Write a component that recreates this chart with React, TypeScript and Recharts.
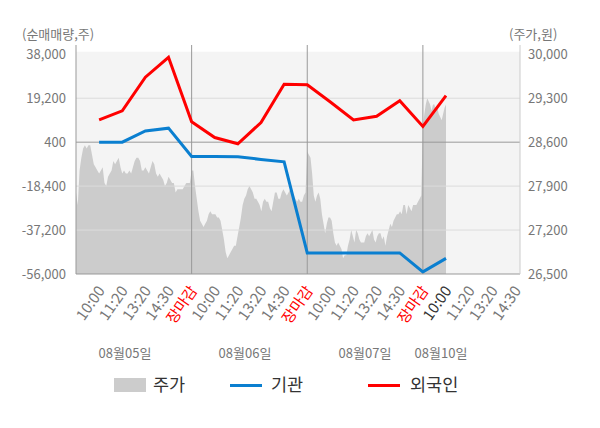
import React from "react";
import {
    ComposedChart,
    Area,
    Line,
    XAxis,
    YAxis,
    ReferenceLine,
    ReferenceArea
} from "recharts";

// x-axis tick labels (positions 1..19)
const tickLabels = [
    "10:00", "11:20", "13:20", "14:30", "장마감",
    "10:00", "11:20", "13:20", "14:30", "장마감",
    "10:00", "11:20", "13:20", "14:30", "장마감",
    "10:00", "11:20", "13:20", "14:30"
];

const dates = ["08월05일", "08월06일", "08월07일", "08월10일"];

// net buying (주), one value per tick from the first 10:00
const institution = [400, 400, 5200, 6400, -5700, -5700, -5800, -7000, -8000, -47000, -47000, -47000, -47000, -47000, -55100, -49300];
const foreign = [9900, 13800, 28200, 36700, 9100, 2400, -300, 8800, 25200, 25000, 17600, 9900, 11500, 18100, 7100, 20300];

// intraday price (원)
const priceDay1 = [
    27800, 27600, 28150, 28350, 28500, 28550, 28500, 28550, 28550, 28400, 28250, 28200, 28150, 28100, 28150, 28200,
    27950, 27900, 28050, 28100, 28150, 28300, 28250, 28300, 28350, 28200, 28100, 28150, 28100, 28100, 28150, 28100,
    28200, 28300, 28350, 28350, 28300, 28150, 28150, 28200, 28150, 28100, 28200, 28300, 28250, 28100, 28050, 28100,
    28050, 28000, 27900, 27950, 28050, 28000, 27950, 27950, 27800, 27850, 27850, 27850, 27850, 27900, 27950, 27950, 27950
];
const priceDay2 = [
    28150, 28150, 27900, 27700, 27500, 27350, 27300, 27250, 27300, 27350, 27450, 27500, 27450, 27450, 27450, 27400,
    27400, 27350, 27200, 27050, 26850, 26750, 26800, 26850, 26900, 26950, 26950, 27100, 27250, 27400, 27600, 27700,
    27750, 27850, 27900, 27850, 27800, 27700, 27700, 27650, 27600, 27500, 27650, 27700, 27650, 27650, 27550, 27500,
    27650, 27800, 27800, 27700, 27700, 27800, 27850, 27800, 27750, 27800, 27850, 27750, 27750, 27700, 27650, 27700,
    27650, 27650, 27750, 27800
];
const priceDay3 = [
    28450, 28400, 28350, 28100, 27750, 27650, 27750, 27800, 27700, 27450, 27300, 27150, 27300, 27400, 27400, 27350,
    27150, 27000, 26950, 27000, 26950, 26900, 26750, 26800, 26800, 26950, 27050, 27200, 27100, 27000, 27200, 27150,
    27050, 27000, 27000, 27000, 27100, 27150, 27100, 27150, 27200, 27050, 27000, 27100, 27150, 27150, 27050, 27100,
    26950, 27100, 27200, 27300, 27250, 27350, 27400, 27450, 27450, 27500, 27450, 27600, 27600, 27450, 27600, 27550,
    27500, 27600, 27600, 27600, 27650, 27700, 27750
];
const priceDay4 = [28850, 29050, 29200, 29300, 29250, 29200, 29100, 29200, 29200, 29100, 29150, 29050, 29000, 28950, 29050, 29150, 29200];

const leftTicks = [-56000, -37200, -18400, 400, 19200, 38000];
const rightTicks = [26500, 27200, 27900, 28600, 29300, 30000];

const FONT = "'Noto Sans CJK KR', 'Noto Sans', sans-serif";

function buildData() {
    const rows = new Map<number, any>();
    const put = (x: number, key: string, v: number) => {
        const k = Math.round(x * 1000) / 1000;
        const r = rows.get(k) ?? { x: k };
        r[key] = v;
        rows.set(k, r);
    };
    [priceDay1, priceDay2, priceDay3].forEach((day, d) =>
        day.forEach((p, i) => put(d * 5 + (i * 5) / day.length, "price", p))
    );
    priceDay4.forEach((p, i) => put(15 + i / (priceDay4.length - 1), "price", p));
    institution.forEach((v, i) => put(i + 1, "inst", v));
    foreign.forEach((v, i) => put(i + 1, "foreign", v));
    return [...rows.values()].sort((a, b) => a.x - b.x);
}

const data = buildData();

function TimeTick({ x, y, payload }: any) {
    const label = tickLabels[payload.value - 1];
    let color = "#777";
    if (label === "장마감") color = "#ff0000";
    else if (payload.value === 16) color = "#333";
    return (
        <g transform={`translate(${x + 1},${y + 5})`}>
            <text
                transform="rotate(-55)"
                textAnchor="end"
                dominantBaseline="central"
                fontSize={15}
                fontFamily={FONT}
                fill={color}
            >
                {label}
            </text>
        </g>
    );
}

const fmt = (v: number) => v.toLocaleString("en-US");

export default function App() {
    const tickStyle = { fill: "#777", fontSize: 13, fontFamily: FONT };
    return (
        <div style={{ position: "absolute", left: 0, top: 0, width: 600, height: 428, fontFamily: FONT, background: "#fff" }}>
            <ComposedChart
                width={600}
                height={428}
                data={data}
                margin={{ top: 45, right: 20, left: 16, bottom: 0 }}
            >
                <XAxis
                    type="number"
                    dataKey="x"
                    domain={[0, 19.2]}
                    ticks={tickLabels.map((_, i) => i + 1)}
                    interval={0}
                    tick={<TimeTick />}
                    tickLine={false}
                    axisLine={{ stroke: "#999" }}
                    height={154}
                />
                <YAxis
                    yAxisId="left"
                    type="number"
                    domain={[-56000, 41974]}
                    ticks={leftTicks}
                    interval={0}
                    tickFormatter={fmt}
                    tick={tickStyle}
                    tickLine={false}
                    tickMargin={4}
                    axisLine={{ stroke: "#999" }}
                    width={60}
                />
                <YAxis
                    yAxisId="right"
                    orientation="right"
                    type="number"
                    domain={[26500, 30148]}
                    ticks={rightTicks}
                    interval={0}
                    tickFormatter={fmt}
                    tick={tickStyle}
                    tickLine={false}
                    axisLine={{ stroke: "#ccc" }}
                    width={60}
                />
                <ReferenceArea
                    yAxisId="left"
                    x1={0}
                    x2={19.2}
                    y1={-56000}
                    y2={39100}
                    fill="#f4f4f4"
                    fillOpacity={1}
                    stroke="none"
                />
                {[19200, -18400, -37200].map((t) => (
                    <ReferenceLine key={t} yAxisId="left" y={t} stroke="#dcdcdc" strokeWidth={1} />
                ))}
                <Area
                    yAxisId="right"
                    type="linear"
                    dataKey="price"
                    stroke="none"
                    fill="#cccccc"
                    fillOpacity={1}
                    connectNulls
                    dot={false}
                    activeDot={false}
                    isAnimationActive={false}
                />
                <ReferenceLine yAxisId="left" y={400} stroke="#999" strokeWidth={1} />
                {[5, 10, 15].map((v) => (
                    <ReferenceLine key={v} yAxisId="left" x={v} stroke="#999" strokeWidth={1} />
                ))}
                <Line
                    yAxisId="left"
                    type="linear"
                    dataKey="inst"
                    stroke="#0a7fd0"
                    strokeWidth={3}
                    connectNulls
                    dot={false}
                    activeDot={false}
                    isAnimationActive={false}
                />
                <Line
                    yAxisId="left"
                    type="linear"
                    dataKey="foreign"
                    stroke="#ff0000"
                    strokeWidth={3}
                    connectNulls
                    dot={false}
                    activeDot={false}
                    isAnimationActive={false}
                />
            </ComposedChart>

            <div style={{ position: "absolute", left: 22, top: 26, fontSize: 13, lineHeight: "16px", color: "#777" }}>
                (순매매량,주)
            </div>
            <div style={{ position: "absolute", left: 509, top: 26, fontSize: 13, lineHeight: "16px", color: "#777" }}>
                (주가,원)
            </div>

            {dates.map((d, i) => (
                <div
                    key={d}
                    style={{
                        position: "absolute",
                        left: [125, 245, 365, 441][i] - 40,
                        width: 80,
                        textAlign: "center",
                        top: 344,
                        fontSize: 13,
                        lineHeight: "18px",
                        color: "#777"
                    }}
                >
                    {d}
                </div>
            ))}

            <div style={{ position: "absolute", left: 114, top: 378, width: 32, height: 14, background: "#cccccc" }} />
            <div style={{ position: "absolute", left: 153, top: 373, fontSize: 17.5, lineHeight: "22px", color: "#333" }}>주가</div>
            <div style={{ position: "absolute", left: 230, top: 384, width: 32, height: 3, background: "#0a7fd0" }} />
            <div style={{ position: "absolute", left: 271, top: 373, fontSize: 17.5, lineHeight: "22px", color: "#333" }}>기관</div>
            <div style={{ position: "absolute", left: 368, top: 384, width: 32, height: 3, background: "#ff0000" }} />
            <div style={{ position: "absolute", left: 410, top: 373, fontSize: 17.5, lineHeight: "22px", color: "#333" }}>외국인</div>
        </div>
    );
}
